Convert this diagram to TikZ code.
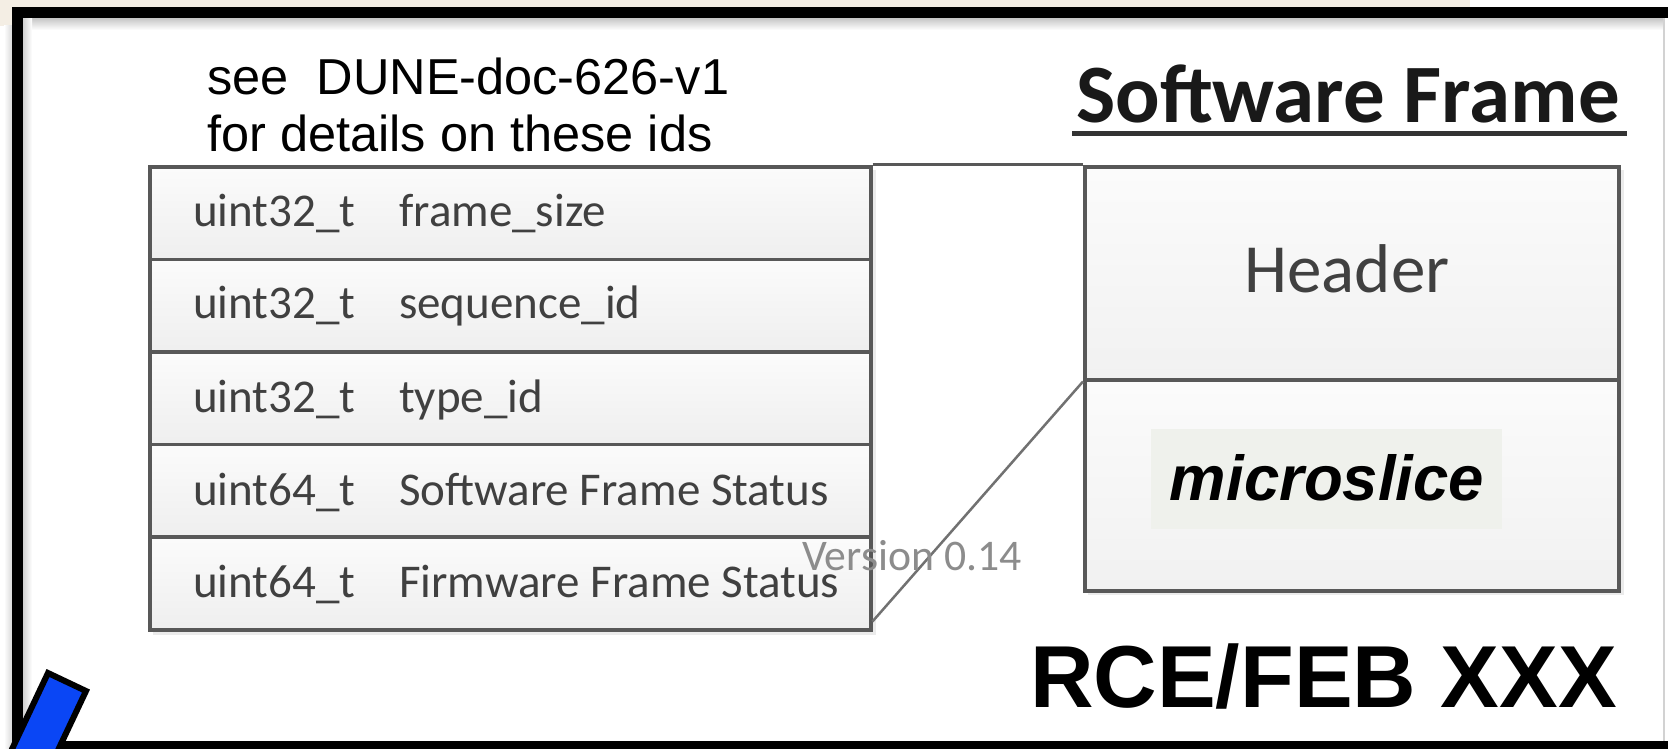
\documentclass[tikz,border=0pt]{standalone}
\usepackage{fontspec}
\newfontfamily\calfont{Carlito}
\newfontfamily\helvfont{Liberation Sans}
\usetikzlibrary{calc}
\definecolor{edgegray}{RGB}{88,88,88}
\definecolor{inkgray}{RGB}{64,64,64}
\definecolor{paper}{RGB}{244,238,228}
\definecolor{markerblue}{RGB}{10,70,245}
\definecolor{tagbg}{RGB}{239,241,236}
\definecolor{vergray}{RGB}{140,140,140}
\begin{document}
\begin{tikzpicture}[x=1pt,y=-1pt,
  field/.style={draw=edgegray, line width=3.5pt, top color=white!97!gray, bottom color=gray!13,
    minimum width=721pt, minimum height=92.6pt, inner sep=0pt, anchor=north west},
  blockbox/.style={draw=edgegray, line width=3.5pt, top color=white!97!gray, bottom color=gray!11,
    minimum width=534pt, inner sep=0pt, anchor=north west},
  fieldtxt/.style={font=\calfont\fontsize{47}{50}\selectfont, text=inkgray, anchor=base west, inner sep=0pt},
  notetxt/.style={font=\helvfont\fontsize{50.5}{55}\selectfont, anchor=base west, inner sep=0pt},
  link/.style={draw=edgegray!85, line width=2.5pt},
  boxshadow/.style={fill=gray!16}
]
\useasboundingbox (0,0) rectangle (1668,749);
\fill[white] (0,0) rectangle (1668,749);

% paper strip behind the frame
\fill[paper] (0,0) rectangle (1470,8);
\fill[paper] (0,0) rectangle (12,26);

% soft shading along the frame edges
\shade[top color=gray!45, bottom color=white] (23,18) rectangle (1663,30);
\shade[left color=gray!35, right color=white] (23,18) rectangle (32,741);
\shade[left color=white, right color=gray!30] (4,26) rectangle (12,749);
\draw[gray!35, line width=2pt] (1664,18) -- (1664,741);

% frame
\fill[black] (12,7) rectangle (1668,18);
\fill[black] (12,7) rectangle (23,749);
\fill[black] (12,741) rectangle (1668,749);

% note
\node[notetxt] (note1) at (207,95) {see\ \ DUNE-doc-626-v1};
\node[notetxt] (note2) at (207,152) {for details on these ids};

% field table
\fill[boxshadow] (153,170) rectangle (876,635);
\node[field] (r1) at (148,165.0) {};
\node[field] (r2) at (148,257.6) {};
\node[field] (r3) at (148,350.2) {};
\node[field] (r4) at (148,442.8) {};
\node[field] (r5) at (148,535.4) {};

\node[fieldtxt] (t1) at (193,226) {uint32\_t};
\node[fieldtxt] (n1) at (399,226) {frame\_size};
\node[fieldtxt] (t2) at (193,318) {uint32\_t};
\node[fieldtxt] (n2) at (399,318) {sequence\_id};
\node[fieldtxt] (t3) at (193,412) {uint32\_t};
\node[fieldtxt] (n3) at (399,412) {type\_id};
\node[fieldtxt] (t4) at (193,505) {uint64\_t};
\node[fieldtxt] (n4) at (399,505) {Software Frame Status};
\node[fieldtxt] (t5) at (193,597) {uint64\_t};
\node[fieldtxt] (n5) at (399,597) {Firmware Frame Status};

% software frame blocks
\fill[boxshadow] (1088,170) rectangle (1624,595);
\node[blockbox, minimum height=213pt] (hdr) at (1083,165) {};
\node[blockbox, minimum height=211pt] (ms) at (1083,378) {};
\node[font=\calfont\fontsize{69}{72}\selectfont, text=inkgray, anchor=base, inner sep=0pt] (hdrtxt) at (1347,292) {Header};
\fill[tagbg] (1151,429) rectangle (1502,529);
\node[font=\helvfont\bfseries\itshape\fontsize{63.5}{66}\selectfont, anchor=base, inner sep=0pt] (mstxt) at (1327,500) {microslice};

% expansion lines
\draw[link, draw=edgegray, line width=3pt] (r1.north east) -- (hdr.north west);
\draw[link] ([yshift=10pt]r5.south east) -- (hdr.south west);

% version tag
\node[font=\calfont\fontsize{43.7}{46}\selectfont, text=vergray, anchor=base west, inner sep=0pt] (ver) at (802,570) {Version 0.14};

% titles
\node[font=\calfont\bfseries\fontsize{83}{86}\selectfont, text=black!90, anchor=base east, inner sep=0pt] (title) at (1620,123) {Software Frame};
\draw[black!80, line width=5pt] (1072,134) -- (1627,134);
\node[font=\helvfont\bfseries\fontsize{88}{92}\selectfont, anchor=base east, inner sep=0pt] (board) at (1617,707) {RCE/FEB XXX};

% marker in the corner
\begin{scope}
\clip (0,0) rectangle (1668,749);
\filldraw[fill=markerblue, draw=black, line width=6pt, line join=miter]
  (48,673) -- (86,691) -- (43,782) -- (5,764) -- cycle;
\end{scope}
\end{tikzpicture}
\end{document}
